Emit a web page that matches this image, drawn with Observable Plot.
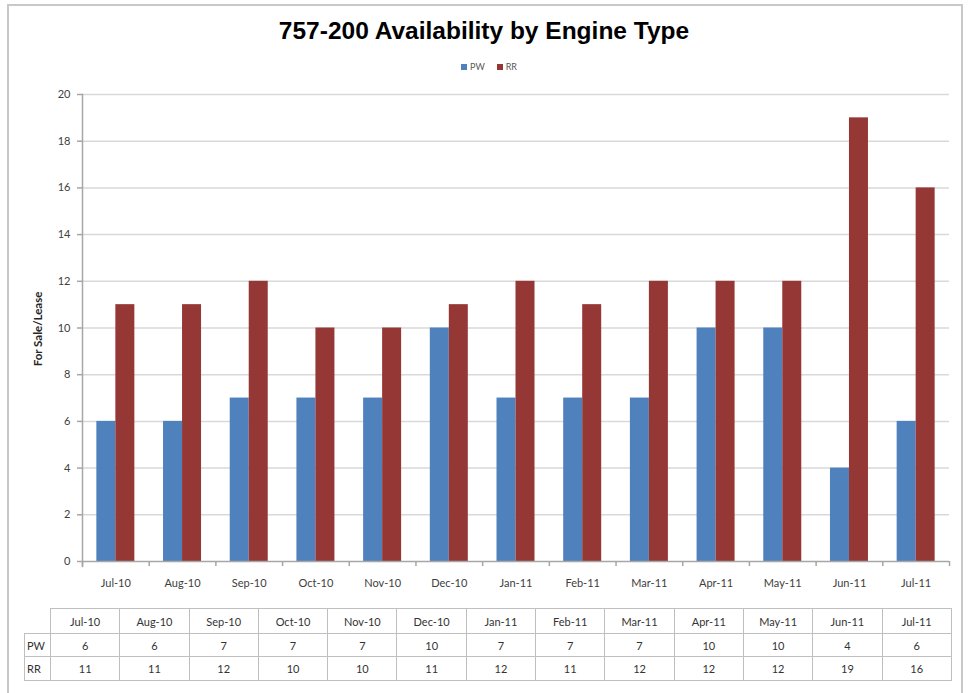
<!DOCTYPE html>
<html><head><meta charset="utf-8">
<script src="https://cdn.jsdelivr.net/npm/d3@7"></script>
<script src="https://cdn.jsdelivr.net/npm/@observablehq/plot@0.6"></script>
<style>
body{margin:0;background:#fff;}
#wrap{position:relative;width:968px;height:693px;overflow:hidden;font-family:Lato,"Open Sans",sans-serif;background:#fff;}
#frame{position:absolute;left:7px;top:4px;width:956px;height:720px;border:2px solid #c8c8c8;box-sizing:border-box;}
#title{position:absolute;left:0;width:968px;top:17px;text-align:center;font:bold 24.5px "Liberation Sans",Arial,sans-serif;color:#000;white-space:nowrap;}
#legend{position:absolute;top:61px;left:461px;font-size:9px;color:#595959;white-space:nowrap;}
#legend span.sw{display:inline-block;width:6px;height:6px;margin-right:3px;vertical-align:0px;}
#ylab{position:absolute;left:37px;top:329px;transform:translate(-50%,-50%) rotate(-90deg);font-weight:bold;font-size:11.5px;color:#262626;white-space:nowrap;}
#chart{position:absolute;left:0;top:0;}
#tbl{position:absolute;left:24px;top:608px;width:927px;border-collapse:collapse;font-size:11px;color:#333;table-layout:fixed;}
#tbl td{border:1px solid #bfbfbf;text-align:center;padding:0;overflow:hidden;white-space:nowrap;}
#tbl td.rl{text-align:left;padding-left:2px;}
#tbl tr.h td{height:24px;}
#tbl tr.p td{height:22px;}
#tbl tr.r td{height:23px;}
#tbl td.empty{border-top:none;border-left:none;}
</style></head>
<body>
<div id="wrap">
  <div id="frame"></div>
  <div id="title">757-200 Availability by Engine Type</div>
  <div id="legend"></div>
  <div id="chart"></div>
  <div id="ylab">For Sale/Lease</div>
  <table id="tbl"></table>
</div>
<script>
const months = ["Jul-10","Aug-10","Sep-10","Oct-10","Nov-10","Dec-10","Jan-11","Feb-11","Mar-11","Apr-11","May-11","Jun-11","Jul-11"];
const pw = [6,6,7,7,7,10,7,7,7,10,10,4,6];
const rr = [11,11,12,10,10,11,12,11,12,12,12,19,16];
const seriesNames = ["PW","RR"];
const seriesColors = ["#4F81BD","#953735"];
const yTicks = [0,2,4,6,8,10,12,14,16,18,20];

const W = 968, H = 600, ML = 82, MR = 19, MT = 94, MB = 39;
const step = (W - ML - MR) / months.length;
const barW = 19;
const outer = (step - 2 * barW) / 2;

const pwData = months.map((m, i) => ({month: m, value: pw[i]}));
const rrData = months.map((m, i) => ({month: m, value: rr[i]}));

const axisColor = "#a6a6a6";
const textColor = "#404040";

const chart = Plot.plot({
  width: W, height: H,
  marginLeft: ML, marginRight: MR, marginTop: MT, marginBottom: MB,
  style: {fontFamily: "Lato, 'Open Sans', sans-serif", background: "transparent"},
  x: {domain: months, paddingInner: 0, paddingOuter: 0, round: false, axis: null},
  y: {domain: [0, 20], axis: null},
  marks: [
    Plot.ruleY(yTicks.filter(d => d > 0), {stroke: "#d9d9d9", strokeWidth: 1.5}),
    Plot.barY(pwData, {x: "month", y: "value", fill: seriesColors[0], insetLeft: outer, insetRight: step - outer - barW}),
    Plot.barY(rrData, {x: "month", y: "value", fill: seriesColors[1], insetLeft: outer + barW, insetRight: outer}),
    Plot.ruleY([0], {stroke: axisColor, strokeWidth: 1.5}),
    Plot.frame({anchor: "left", stroke: axisColor, strokeWidth: 1.5, insetBottom: -5}),
    Plot.axisY({ticks: yTicks, tickSize: 5, tickPadding: 7, stroke: axisColor, fill: textColor, fontSize: 11, label: null, strokeWidth: 1.5}),
    Plot.axisX({tickSize: 0, tickPadding: 18, fontSize: 11, fill: textColor, label: null}),
    Plot.axisX({tickSize: 5, tickFormat: () => "", dx: -step / 2, stroke: axisColor, label: null, strokeWidth: 1.5}),
    Plot.axisX({ticks: [months[months.length - 1]], tickSize: 5, tickFormat: () => "", dx: step / 2, stroke: axisColor, label: null, strokeWidth: 1.5})
  ]
});
document.getElementById("chart").appendChild(chart);

// legend
const leg = document.getElementById("legend");
leg.innerHTML = seriesNames.map((n, i) =>
  `<span class="sw" style="background:${seriesColors[i]}"></span><span style="margin-right:${i === 0 ? 12 : 0}px">${n}</span>`).join("");

// data table
const firstW = 26;
const colW = (927 - firstW) / months.length;
const tbl = document.getElementById("tbl");
let html = `<colgroup><col style="width:${firstW}px">` + months.map(() => `<col style="width:${colW}px">`).join("") + `</colgroup>`;
html += `<tr class="h"><td class="rl empty"></td>` + months.map(m => `<td>${m}</td>`).join("") + `</tr>`;
html += `<tr class="p"><td class="rl">${seriesNames[0]}</td>` + pw.map(v => `<td>${v}</td>`).join("") + `</tr>`;
html += `<tr class="r"><td class="rl">${seriesNames[1]}</td>` + rr.map(v => `<td>${v}</td>`).join("") + `</tr>`;
tbl.innerHTML = html;
</script>
</body></html>
